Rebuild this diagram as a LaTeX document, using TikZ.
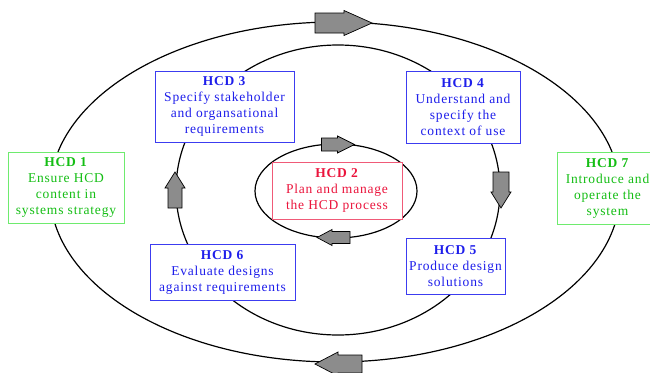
\documentclass[tikz,border=0pt]{standalone}
\usepackage{fontspec}
\setmainfont{Liberation Serif}[LetterSpace=6]
\definecolor{tblue}{RGB}{30,30,235}
\definecolor{bblue}{RGB}{60,60,240}
\definecolor{tgreen}{RGB}{20,190,20}
\definecolor{bgreen}{RGB}{110,235,110}
\definecolor{tred}{RGB}{235,20,60}
\definecolor{bred}{RGB}{240,90,120}
\definecolor{afill}{RGB}{140,140,140}
\newcommand\blockarr[7]{%
  \draw[arrowshape, shift={(#1,#2)}, rotate=#3]
    ({-#4/2},{-#5}) -- ({#4/2-#7},{-#5}) -- ({#4/2-#7},{-#6}) -- ({#4/2},0)
    -- ({#4/2-#7},{#6}) -- ({#4/2-#7},{#5}) -- ({-#4/2},{#5}) -- cycle;}
\tikzset{
  cyc/.style={line width=1.2pt, black},
  arrowshape/.style={fill=afill, draw=black, line width=0.7pt, line join=miter},
  hbox/.style={fill=white, align=center, inner sep=0pt, line width=0.9pt,
    font=\fontsize{13.5}{16}\selectfont},
  bluebox/.style={hbox, draw=bblue, text=tblue},
  greenbox/.style={hbox, draw=bgreen, text=tgreen},
  redbox/.style={hbox, draw=bred, text=tred},
}
\begin{document}
\begin{tikzpicture}[x=1pt,y=-1pt]
\useasboundingbox (0,0) rectangle (650,372);
\clip (0,0) rectangle (650,372);
\fill[white] (0,0) rectangle (650,372);
% cycles
\draw[cyc] (335,192) ellipse [x radius=285pt, y radius=170pt];
\draw[cyc] (338,190) ellipse [x radius=162pt, y radius=145pt];
\draw[cyc] (336,191) ellipse [x radius=81pt, y radius=47pt];
% boxes
\node[greenbox, minimum width=116pt, minimum height=71pt] (h1) at (66,187.5)
  {\textbf{HCD 1}\\Ensure HCD\\content in\\systems strategy};
\node[redbox, minimum width=130pt, minimum height=57pt] (h2) at (337,190.5)
  {\textbf{HCD 2}\\Plan and manage\\the HCD process};
\node[bluebox, minimum width=139pt, minimum height=71pt] (h3) at (224.5,106.5)
  {\textbf{HCD 3}\\Specify stakeholder\\and organsational\\requirements};
\node[bluebox, minimum width=114pt, minimum height=72pt] (h4) at (463,107)
  {\textbf{HCD 4}\\Understand and\\specify the\\context of use};
\node[bluebox, minimum width=99pt, minimum height=56pt] (h5) at (455.5,266)
  {\textbf{HCD 5}\\Produce design\\solutions};
\node[bluebox, minimum width=145pt, minimum height=56pt] (h6) at (222.5,272)
  {\textbf{HCD 6}\\Evaluate designs\\against requirements};
\node[greenbox, minimum width=101pt, minimum height=72pt] (h7) at (607.5,188)
  {\textbf{HCD 7}\\Introduce and\\operate the\\system};
% block arrows
\blockarr{343.5}{23}{0}{57}{10}{12.5}{28}
\blockarr{338.5}{364}{180}{47}{9}{12}{23}
\blockarr{338}{144.5}{0}{33}{6.5}{8.5}{17}
\blockarr{333.5}{237.5}{180}{33}{6}{8}{15}
\blockarr{175}{190}{90}{36}{7}{10}{16}
\blockarr{501}{190}{-90}{36}{8}{10}{16}
\end{tikzpicture}
\end{document}
